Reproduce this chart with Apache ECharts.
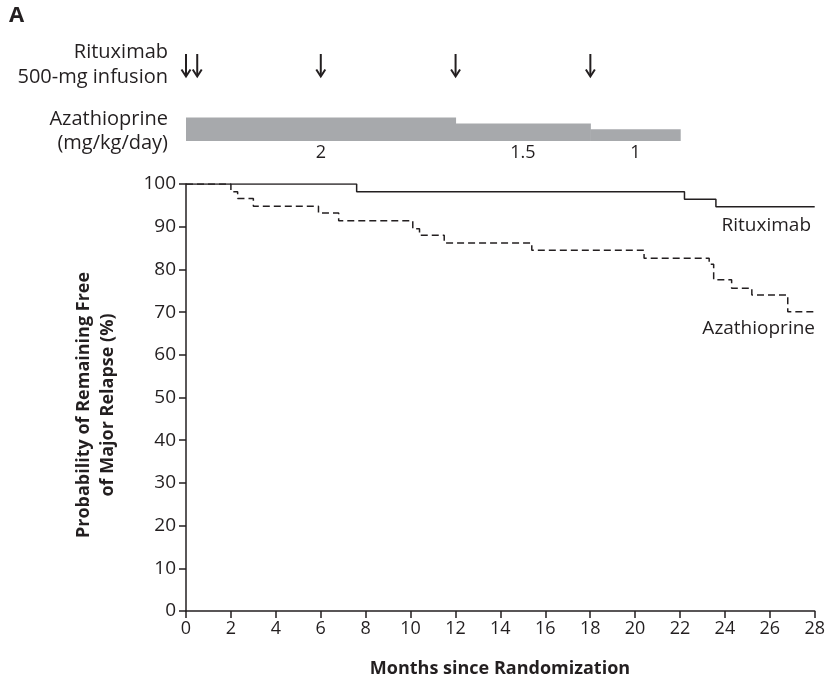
<!DOCTYPE html>
<html>
<head>
<meta charset="utf-8">
<script src="https://cdn.jsdelivr.net/npm/echarts@6/dist/echarts.min.js"></script>
<style>
html,body{margin:0;padding:0;background:#fff;}
#chart{width:828px;height:686px;}
</style>
</head>
<body>
<div id="chart"></div>
<script>
// ---- data ----
const rituxTime = [0, 7.6, 22.2, 23.6, 28];
const rituxSurv = [100, 98.2, 96.4, 94.7, 94.7];
const azaTime = [0, 2.0, 2.3, 3.0, 5.9, 6.8, 10.1, 10.4, 11.5, 15.4, 20.4, 23.3, 23.5, 24.3, 25.2, 26.8, 28];
const azaSurv = [100, 98.2, 96.6, 94.8, 93.2, 91.4, 89.5, 88.0, 86.2, 84.5, 82.6, 81.2, 77.6, 75.6, 74.0, 70.1, 70.1];
const infusionMonths = [0, 0.5, 6, 12, 18];
const doseStart = [0, 12, 18];
const doseEnd = [12, 18, 22];
const doseValue = [2, 1.5, 1];
const doseLabelMonth = [6, 15, 20];
const doseLabelText = ['2', '1.5', '1'];

const INK = '#231f20';
const FONT = '"Open Sans", "Noto Sans", sans-serif';

const chart = echarts.init(document.getElementById('chart'), null, {renderer: 'canvas'});

const hiddenX = (gi) => ({type: 'value', gridIndex: gi, min: 0, max: 28, show: false});

const option = {
  animation: false,
  backgroundColor: '#ffffff',
  grid: [
    {left: 186, right: 13, top: 184, bottom: 75},        // main KM plot
    {left: 186, right: 13, top: 117.5, height: 23.5},    // azathioprine dose bar
    {left: 186, right: 13, top: 54, height: 22.5}        // infusion arrows
  ],
  xAxis: [
    {
      type: 'value', gridIndex: 0, min: 0, max: 28, interval: 2,
      axisLine: {show: true, onZero: false, lineStyle: {color: INK, width: 1.5}},
      axisTick: {show: true, length: 7, lineStyle: {color: INK, width: 1.5}},
      axisLabel: {color: INK, fontSize: 18, fontFamily: FONT, margin: 9},
      splitLine: {show: false}
    },
    hiddenX(1),
    hiddenX(2)
  ],
  yAxis: [
    {
      type: 'value', gridIndex: 0, min: 0, max: 100, interval: 10,
      axisLine: {show: true, onZero: false, lineStyle: {color: INK, width: 1.5}},
      axisTick: {show: true, length: 7, lineStyle: {color: INK, width: 1.5}},
      axisLabel: {color: INK, fontSize: 19, fontFamily: FONT, margin: 10},
      splitLine: {show: false}
    },
    {type: 'value', gridIndex: 1, min: 0, max: 2, show: false},
    {type: 'value', gridIndex: 2, min: 0, max: 1, show: false}
  ],
  series: [
    {
      name: 'Rituximab', type: 'line', xAxisIndex: 0, yAxisIndex: 0,
      step: 'end', symbol: 'none',
      lineStyle: {color: INK, width: 1.5},
      data: rituxTime.map((t, i) => [t, rituxSurv[i]])
    },
    {
      name: 'Azathioprine', type: 'line', xAxisIndex: 0, yAxisIndex: 0,
      step: 'end', symbol: 'none',
      lineStyle: {color: INK, width: 1.5, type: [7, 4]},
      data: azaTime.map((t, i) => [t, azaSurv[i]])
    },
    {
      name: 'dose', type: 'custom', xAxisIndex: 1, yAxisIndex: 1,
      data: doseStart.map((s, i) => [s, doseEnd[i], doseValue[i]]),
      renderItem: function (params, api) {
        const p0 = api.coord([api.value(0), api.value(2)]);
        const p1 = api.coord([api.value(1), 0]);
        return {
          type: 'rect',
          shape: {x: p0[0], y: p0[1], width: p1[0] - p0[0] + 0.5, height: p1[1] - p0[1]},
          style: {fill: '#a7a9ac'}
        };
      },
      clip: false, silent: true
    },
    {
      name: 'doseLabels', type: 'custom', xAxisIndex: 1, yAxisIndex: 1,
      data: doseLabelMonth.map((m, i) => [m, 0, i]),
      renderItem: function (params, api) {
        const p = api.coord([api.value(0), 0]);
        return {
          type: 'text',
          style: {
            x: p[0], y: p[1] + 12, text: doseLabelText[api.value(2)],
            fill: INK, font: '18px ' + FONT, align: 'center', verticalAlign: 'middle'
          }
        };
      },
      clip: false, silent: true
    },
    {
      name: 'infusions', type: 'custom', xAxisIndex: 2, yAxisIndex: 2,
      data: infusionMonths.map(m => [m, 0]),
      renderItem: function (params, api) {
        const top = api.coord([api.value(0), 1]);
        const bot = api.coord([api.value(0), 0]);
        return {
          type: 'group',
          children: [
            {type: 'line', shape: {x1: top[0], y1: top[1], x2: bot[0], y2: bot[1] - 1},
             style: {stroke: INK, lineWidth: 2}},
            {type: 'polyline', shape: {points: [[bot[0] - 4.5, bot[1] - 7], [bot[0], bot[1]], [bot[0] + 4.5, bot[1] - 7]]},
             style: {stroke: INK, lineWidth: 2, fill: null}}
          ]
        };
      },
      clip: false, silent: true
    }
  ],
  graphic: [
    {type: 'text', left: 9, top: 5, style: {text: 'A', font: 'bold 22px ' + FONT, fill: INK}},
    {type: 'text', x: 168, y: 52, style: {text: 'Rituximab', font: '20px ' + FONT, fill: INK, align: 'right', verticalAlign: 'middle'}},
    {type: 'text', x: 168, y: 77, style: {text: '500-mg infusion', font: '20px ' + FONT, fill: INK, align: 'right', verticalAlign: 'middle'}},
    {type: 'text', x: 168, y: 119, style: {text: 'Azathioprine', font: '20px ' + FONT, fill: INK, align: 'right', verticalAlign: 'middle'}},
    {type: 'text', x: 168, y: 143, style: {text: '(mg/kg/day)', font: '20px ' + FONT, fill: INK, align: 'right', verticalAlign: 'middle'}},
    {type: 'text', x: 811, y: 226, style: {text: 'Rituximab', font: '19px ' + FONT, fill: INK, align: 'right', verticalAlign: 'middle'}},
    {type: 'text', x: 815, y: 329, style: {text: 'Azathioprine', font: '19px ' + FONT, fill: INK, align: 'right', verticalAlign: 'middle'}},
    {type: 'text', x: 500, y: 669, style: {text: 'Months since Randomization', font: 'bold 18px ' + FONT, fill: INK, align: 'center', verticalAlign: 'middle'}},
    {type: 'text', x: 96, y: 405, rotation: Math.PI / 2,
     style: {text: 'Probability of Remaining Free\nof Major Relapse (%)', font: 'bold 18px ' + FONT, fill: INK,
             align: 'center', verticalAlign: 'middle', lineHeight: 24}}
  ]
};

chart.setOption(option);
</script>
</body>
</html>
